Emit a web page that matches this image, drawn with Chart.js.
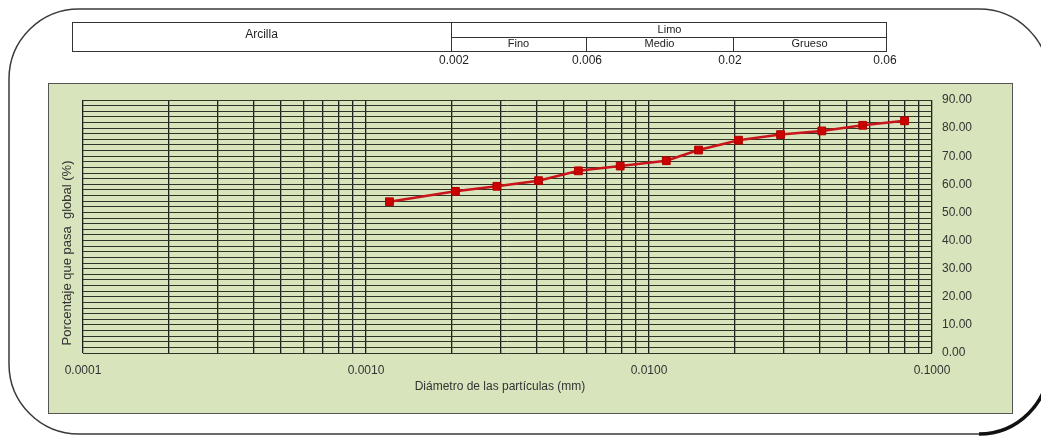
<!DOCTYPE html>
<html>
<head>
<meta charset="utf-8">
<script src="https://cdn.jsdelivr.net/npm/chart.js@4"></script>
<style>
    html, body { margin: 0; padding: 0; background: #ffffff; }
    #wrap { width: 1041px; height: 437px; }
</style>
</head>
<body>
<div id="wrap"><canvas id="granChart" width="1041" height="437"></canvas></div>
<script>
// diameters (mm) and percent passing
const diametros = [0.00121, 0.00207, 0.00290, 0.00407, 0.00563, 0.00791, 0.01151,
                   0.01496, 0.02071, 0.02916, 0.04080, 0.0569, 0.0800];
const pasa = [53.8, 57.5, 59.3, 61.3, 64.8, 66.5, 68.4, 72.2, 75.7, 77.7, 79.0, 81.0, 82.6];

// axis ranges / ticks
const xDecadas = [0.0001, 0.001, 0.01, 0.1];
const yMin = 0, yMax = 90, yStep = 2, yLabelStep = 10;

// header (soil classes) labels
const claseArcilla = 'Arcilla';
const claseLimo = 'Limo';
const subclasesLimo = ['Fino', 'Medio', 'Grueso'];
const limitesTexto = ['0.002', '0.006', '0.02', '0.06'];

const FONT = '"Liberation Sans", Arial, sans-serif';

// draws the frame, the class table and the green panel behind the plot
const decorPlugin = {
    id: 'decor',
    beforeDraw(chart) {
        const ctx = chart.ctx;
        ctx.save();
        ctx.fillStyle = '#ffffff';
        ctx.fillRect(0, 0, chart.width, chart.height);

        // rounded outer frame
        ctx.strokeStyle = '#3a3a3a';
        ctx.lineWidth = 1.5;
        ctx.beginPath();
        ctx.roundRect(9, 9, 1040, 425, 70);
        ctx.stroke();
        // heavier bottom-right corner
        ctx.strokeStyle = '#111';
        ctx.lineWidth = 3.5;
        ctx.beginPath();
        ctx.arc(979, 364, 70, 0, Math.PI / 2);
        ctx.stroke();

        // class table
        const tTop = 22, tMid = 37, tBot = 51;
        const xs = [72, 451, 586, 733, 886];
        ctx.strokeStyle = '#333';
        ctx.lineWidth = 1;
        ctx.strokeRect(xs[0] + 0.5, tTop + 0.5, xs[4] - xs[0], tBot - tTop);
        ctx.beginPath();
        ctx.moveTo(xs[1] + 0.5, tTop); ctx.lineTo(xs[1] + 0.5, tBot);
        ctx.moveTo(xs[1], tMid + 0.5); ctx.lineTo(xs[4], tMid + 0.5);
        ctx.moveTo(xs[2] + 0.5, tMid); ctx.lineTo(xs[2] + 0.5, tBot);
        ctx.moveTo(xs[3] + 0.5, tMid); ctx.lineTo(xs[3] + 0.5, tBot);
        ctx.stroke();

        ctx.fillStyle = '#222';
        ctx.textAlign = 'center';
        ctx.textBaseline = 'middle';
        ctx.font = '12px ' + FONT;
        ctx.fillText(claseArcilla, (xs[0] + xs[1]) / 2, 35);
        ctx.font = '11px ' + FONT;
        ctx.fillText(claseLimo, (xs[1] + xs[4]) / 2 + 1, 29.5);
        for (let i = 0; i < subclasesLimo.length; i++) {
            ctx.fillText(subclasesLimo[i], (xs[i + 1] + xs[i + 2]) / 2, 44);
        }
        ctx.font = '12px ' + FONT;
        const limX = [454, 587, 730, 885];
        limitesTexto.forEach((t, i) => ctx.fillText(t, limX[i], 61));

        // green panel
        ctx.fillStyle = '#d8e4bc';
        ctx.fillRect(48, 83, 964, 330);
        ctx.strokeStyle = '#555';
        ctx.lineWidth = 1;
        ctx.strokeRect(48.5, 83.5, 964, 330);

        // axis titles
        ctx.fillStyle = '#333';
        ctx.font = '12px ' + FONT;
        ctx.fillText('Diámetro de las partículas (mm)', 500, 387);
        ctx.save();
        ctx.translate(67, 253);
        ctx.rotate(-Math.PI / 2);
        ctx.font = '13px ' + FONT;
        ctx.fillText('Porcentaje que pasa  global (%)', 0, 0);
        ctx.restore();
        ctx.restore();
    }
};

function esDecada(v) {
    const l = Math.log10(v);
    return Math.abs(l - Math.round(l)) < 1e-6;
}

const ctx = document.getElementById('granChart').getContext('2d');
new Chart(ctx, {
    type: 'line',
    data: {
        datasets: [{
            data: diametros.map((d, i) => ({ x: d, y: pasa[i] })),
            borderColor: '#c8141a',
            borderWidth: 2.5,
            backgroundColor: '#cc0000',
            pointBackgroundColor: '#cc0000',
            pointBorderColor: '#b00000',
            pointBorderWidth: 1,
            pointStyle: 'rect',
            pointRadius: 5.5,
            tension: 0
        }]
    },
    options: {
        responsive: false,
        animation: false,
        devicePixelRatio: 1,
        layout: { padding: { left: 83, right: 29, top: 100, bottom: 44 } },
        plugins: {
            legend: { display: false },
            tooltip: { enabled: false }
        },
        scales: {
            x: {
                type: 'logarithmic',
                min: xDecadas[0],
                max: xDecadas[xDecadas.length - 1],
                afterBuildTicks(scale) {
                    const ticks = [];
                    xDecadas.forEach((d, i) => {
                        const last = i === xDecadas.length - 1;
                        for (let m = 1; m <= (last ? 1 : 9); m++) {
                            ticks.push({ value: +(d * m).toPrecision(3) });
                        }
                    });
                    scale.ticks = ticks;
                },
                afterFit(scale) {
                    scale.height = 40;
                    scale.paddingLeft = 0;
                    scale.paddingRight = 0;
                },
                border: { display: false },
                grid: { color: '#1e1e1e', lineWidth: 1.3, drawTicks: false },
                ticks: {
                    autoSkip: false,
                    maxRotation: 0,
                    padding: 10,
                    color: '#333',
                    font: { family: FONT, size: 12 },
                    callback: (v) => esDecada(v) ? Number(v).toFixed(4) : ''
                }
            },
            y: {
                type: 'linear',
                position: 'right',
                min: yMin,
                max: yMax,
                afterBuildTicks(scale) {
                    const ticks = [];
                    for (let v = yMin; v <= yMax; v += yStep) ticks.push({ value: v });
                    scale.ticks = ticks;
                },
                afterFit(scale) {
                    scale.width = 80;
                    scale.paddingTop = 0;
                    scale.paddingBottom = 0;
                },
                border: { display: false },
                grid: { color: '#2f3328', lineWidth: 1, drawTicks: false },
                ticks: {
                    autoSkip: false,
                    padding: 10,
                    color: '#333',
                    font: { family: FONT, size: 12 },
                    callback: (v) => v % yLabelStep === 0 ? v.toFixed(2) : ''
                }
            }
        }
    },
    plugins: [decorPlugin]
});
</script>
</body>
</html>
